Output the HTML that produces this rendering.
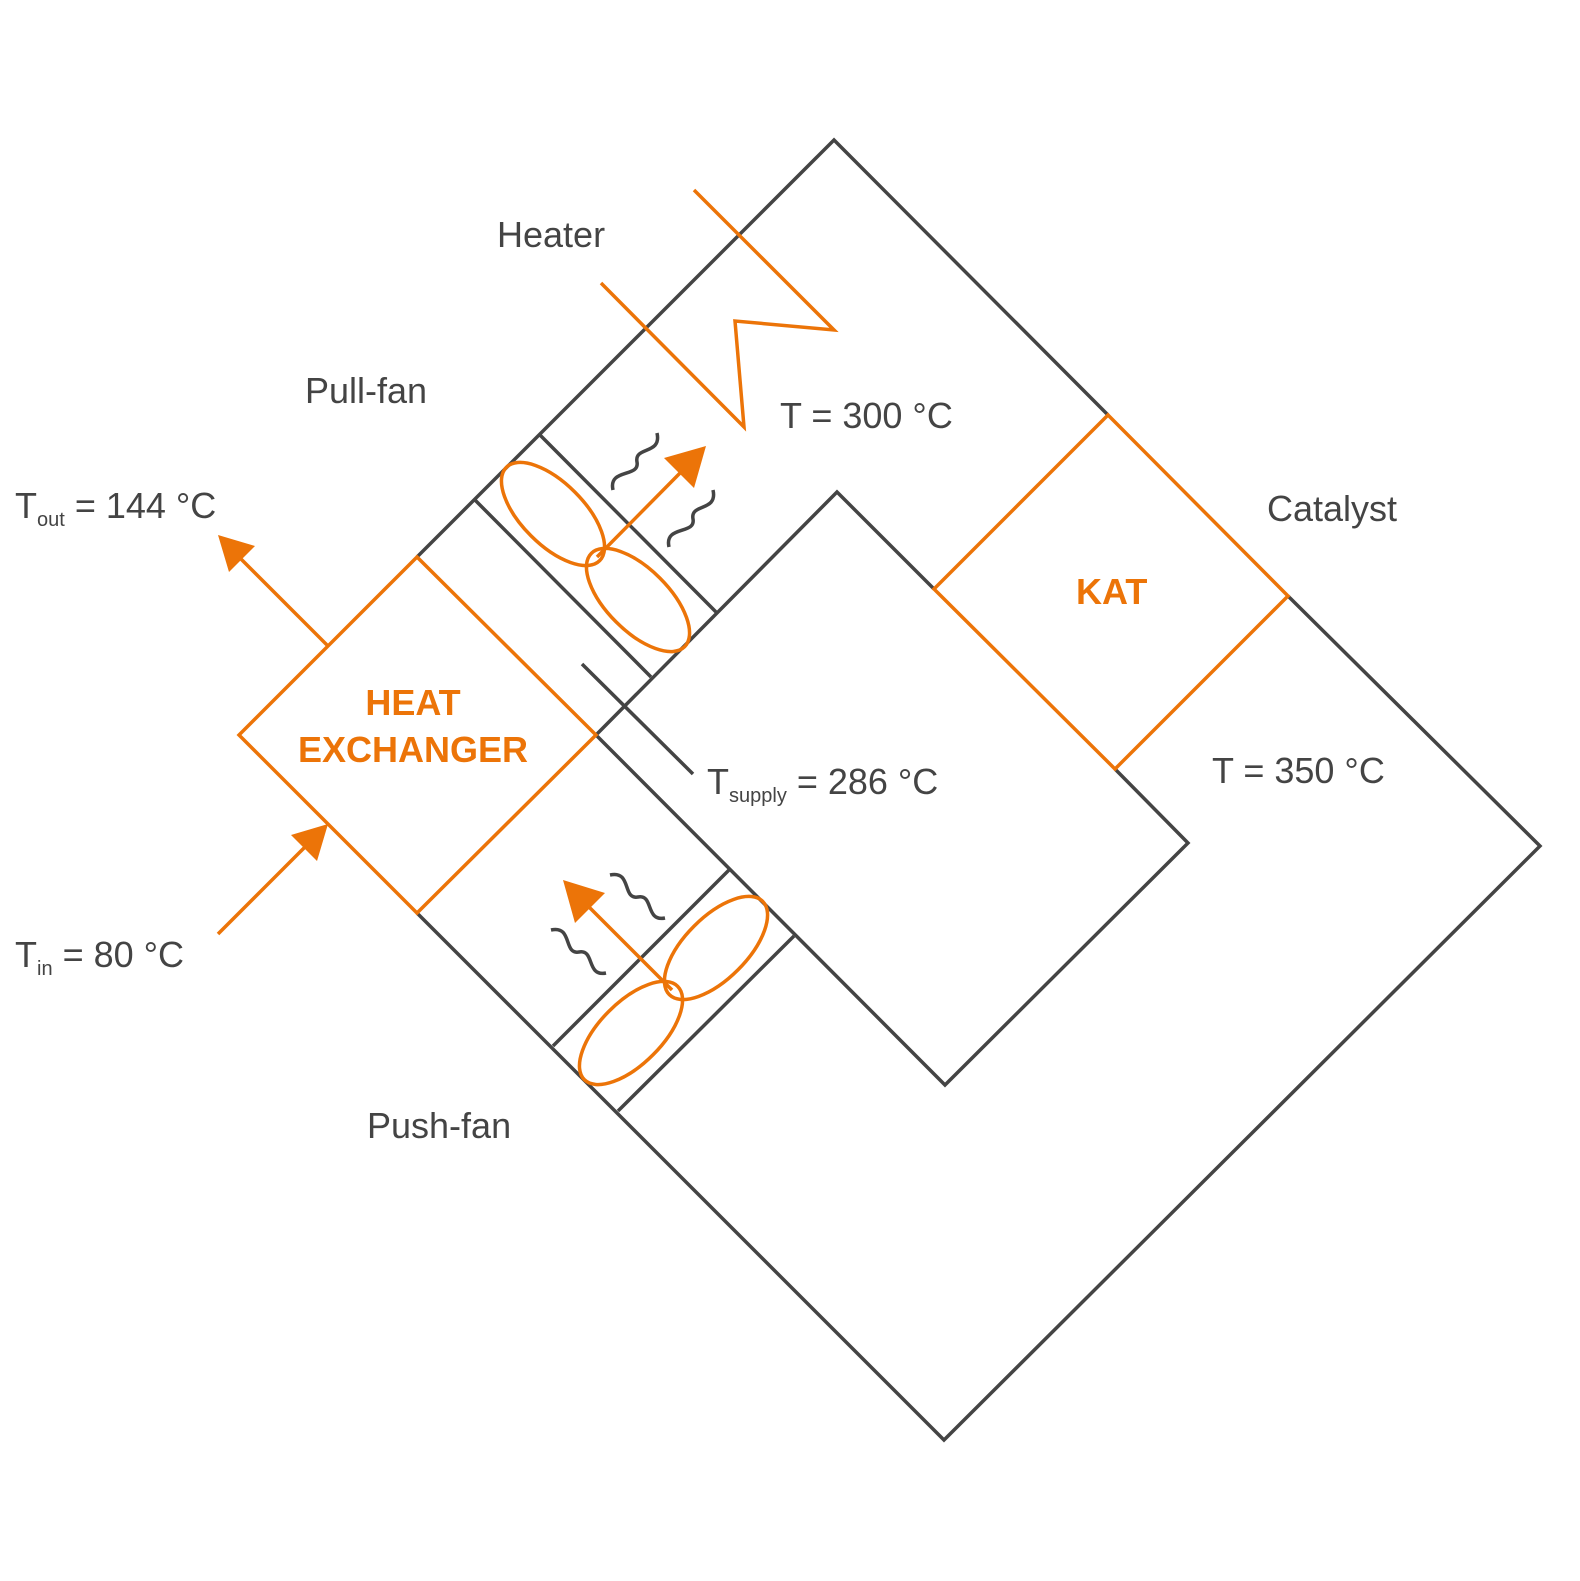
<!DOCTYPE html>
<html><head><style>
html,body{margin:0;padding:0;background:#fff}
svg{display:block}
text{font-family:"Liberation Sans",sans-serif;fill:#444;font-size:36px}
.o{fill:#ec7408;font-weight:bold}
</style></head><body>
<svg width="1580" height="1581" viewBox="0 0 1580 1581" xmlns="http://www.w3.org/2000/svg">
<g fill="none" stroke="#444" stroke-width="3.5" stroke-linejoin="miter">
<path d="M417,557 L834,140 L1108,415"/>
<path d="M1288,596 L1540,846 L944,1440 L417,913"/>
<path d="M596,735 L837,492 L934,589"/>
<path d="M1115,769 L1188,843 L945,1085 L596,735"/>
<path d="M540,435 L716,612 M475,500 L651,677"/>
<path d="M729,870 L553,1046 M794,936 L618,1111"/>
<path d="M582,664 L693,774"/>
<path d="M613,490 C608,468 640,478 637,462 C634,446 662,455 657,433"/>
<path d="M669,547 C664,525 696,535 693,519 C690,503 718,512 713,490"/>
<path d="M610,875 C632,870 622,900 638,897 C654,894 645,922 665,918"/>
<path d="M551,930 C573,925 563,955 579,952 C595,949 586,977 606,973"/>
</g>
<g fill="none" stroke="#ec7408" stroke-width="3.5">
<path d="M417,557 L239,735 L417,913 L596,735 Z"/>
<path d="M1108,415 L934,589 L1115,769 L1288,596 Z"/>
<path d="M694,190 L834,330 L735,321 L744,427 L601,283"/>
<ellipse cx="553" cy="514" rx="66" ry="31" transform="rotate(45 553 514)"/>
<ellipse cx="638" cy="600" rx="66" ry="31" transform="rotate(45 638 600)"/>
<ellipse cx="716" cy="948" rx="66" ry="31" transform="rotate(-45 716 948)"/>
<ellipse cx="631" cy="1033" rx="66" ry="31" transform="rotate(-45 631 1033)"/>
<path d="M597,557 L685,468"/>
<path d="M672,990 L583,901"/>
<path d="M327,645 L238,556"/>
<path d="M218,934 L306,846"/>
</g>
<g fill="#ec7408">
<polygon points="706,446 694,488 664,458"/>
<polygon points="563,880 605,893 575,923"/>
<polygon points="218,535 255,546 229,572"/>
<polygon points="328,824 317,861 291,835"/>
</g>
<text x="497" y="247">Heater</text>
<text x="305" y="403">Pull-fan</text>
<text x="780" y="428">T = 300 °C</text>
<text x="1267" y="521">Catalyst</text>
<text x="15" y="518">T<tspan font-size="20" dy="8">out</tspan><tspan dy="-8"> = 144 °C</tspan></text>
<text x="707" y="794">T<tspan font-size="20" dy="8">supply</tspan><tspan dy="-8"> = 286 °C</tspan></text>
<text x="1212" y="783">T = 350 °C</text>
<text x="15" y="967">T<tspan font-size="20" dy="8">in</tspan><tspan dy="-8"> = 80 °C</tspan></text>
<text x="367" y="1138">Push-fan</text>
<text class="o" x="1076" y="604">KAT</text>
<text class="o" x="413" y="715" text-anchor="middle">HEAT</text>
<text class="o" x="413" y="762" text-anchor="middle">EXCHANGER</text>
</svg>
</body></html>
